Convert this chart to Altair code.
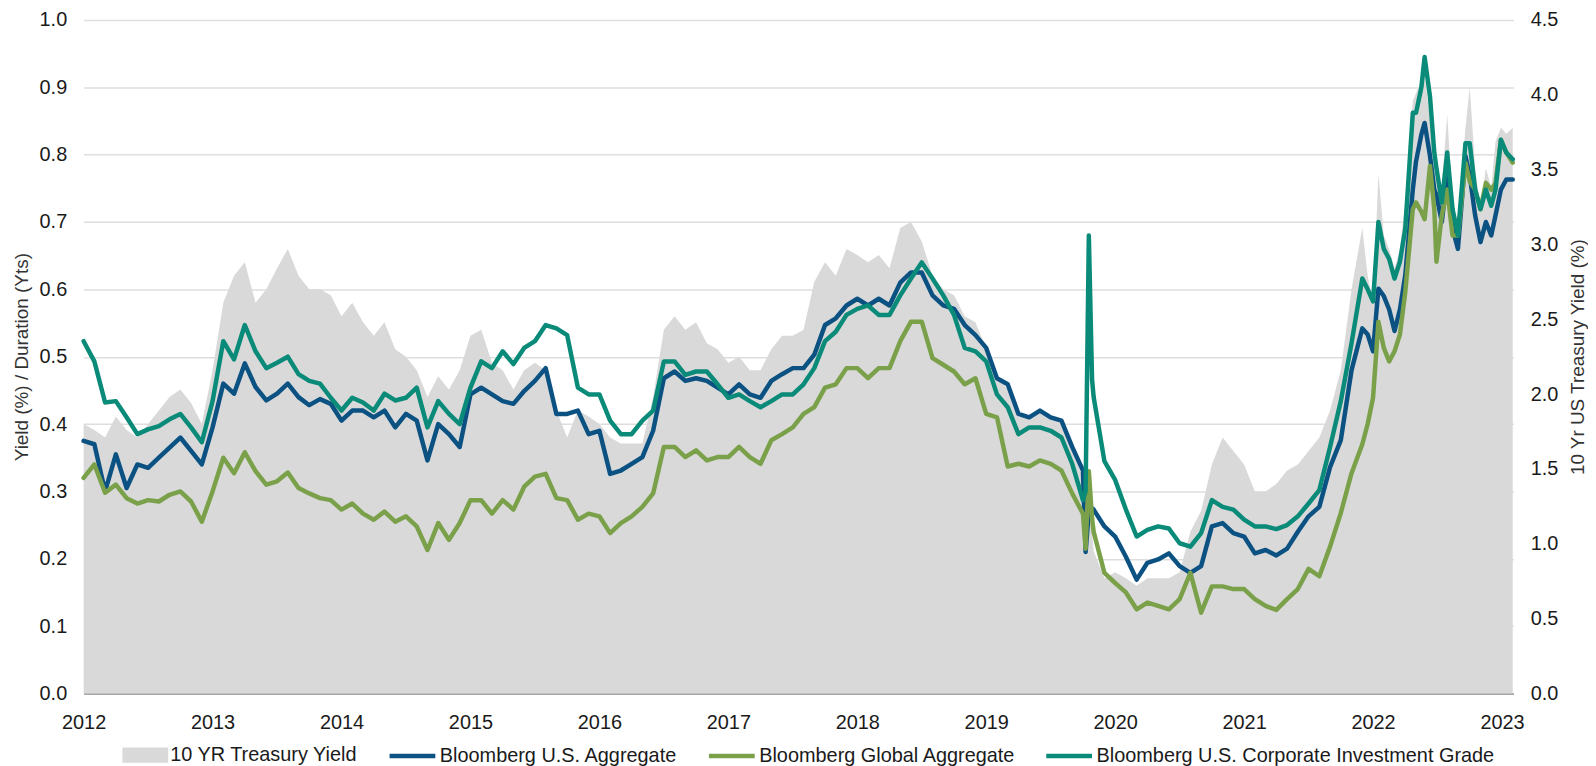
import altair as alt
import pandas as pd

# month index from Jan 2012 (0) ; extra fractional points where the lines spike
months = (list(range(0, 94)) + [93.25, 93.55, 93.85] + list(range(94, 119)) +
          [119, 119.5, 120, 120.5, 121, 121.5, 122, 122.5, 123, 123.7, 124, 124.5,
           124.8, 125.3, 125.7, 125.9, 126.4, 126.9, 127.4, 127.9, 128.6, 129,
           129.5, 130, 130.5, 131, 131.4, 131.9, 132.4, 133])

series_names = ["10 YR Treasury Yield", "Bloomberg U.S. Aggregate",
                "Bloomberg Global Aggregate", "Bloomberg U.S. Corporate Investment Grade"]
series_colors = ["#d9d9d9", "#0b5283", "#7aa14a", "#0a8a78"]

corporate = [0.523, 0.493, 0.432, 0.434, 0.410, 0.385, 0.392, 0.397, 0.407, 0.415, 0.395, 0.373,
             0.434, 0.523, 0.496, 0.547, 0.508, 0.483, 0.491, 0.500, 0.474, 0.464, 0.460,
             0.439, 0.420, 0.439, 0.432, 0.420, 0.445, 0.435, 0.439, 0.454, 0.395, 0.434,
             0.415, 0.400, 0.454, 0.493, 0.483, 0.508, 0.489, 0.513, 0.523, 0.547, 0.542,
             0.532, 0.454, 0.444, 0.444, 0.405, 0.385, 0.385, 0.405, 0.420, 0.493, 0.493,
             0.473, 0.478, 0.478, 0.459, 0.439, 0.444, 0.434, 0.425, 0.434, 0.444, 0.444,
             0.459, 0.483, 0.523, 0.537, 0.562, 0.571, 0.576, 0.562, 0.562, 0.591, 0.616,
             0.640, 0.616, 0.591, 0.562, 0.513, 0.508, 0.493, 0.444, 0.425, 0.385, 0.395,
             0.395, 0.390, 0.380, 0.341, 0.287,
             0.300, 0.680, 0.466,
             0.440, 0.345, 0.317, 0.273, 0.233, 0.243,
             0.248, 0.245, 0.223, 0.218, 0.238, 0.287, 0.277, 0.273, 0.258, 0.248, 0.248,
             0.244, 0.250, 0.263, 0.282, 0.302, 0.366, 0.434, 0.520,
             0.616, 0.600, 0.582, 0.700, 0.660, 0.645, 0.616, 0.641, 0.690, 0.862, 0.862, 0.900,
             0.945, 0.886, 0.803, 0.780, 0.729, 0.803, 0.719, 0.680, 0.817, 0.817, 0.748, 0.719,
             0.748, 0.724, 0.748, 0.822, 0.803, 0.793]

aggregate = [0.375, 0.370, 0.300, 0.355, 0.305, 0.340, 0.335, 0.350, 0.365, 0.380, 0.360, 0.340,
             0.395, 0.460, 0.445, 0.490, 0.455, 0.435, 0.445, 0.460, 0.440, 0.428, 0.437,
             0.430, 0.405, 0.420, 0.420, 0.410, 0.420, 0.395, 0.415, 0.405, 0.346, 0.400,
             0.385, 0.366, 0.444, 0.454, 0.444, 0.434, 0.430, 0.449, 0.464, 0.483, 0.415,
             0.415, 0.420, 0.385, 0.390, 0.326, 0.331, 0.341, 0.351, 0.390, 0.468, 0.478,
             0.464, 0.468, 0.464, 0.454, 0.444, 0.459, 0.444, 0.439, 0.464, 0.474, 0.483,
             0.483, 0.503, 0.547, 0.557, 0.576, 0.586, 0.576, 0.586, 0.576, 0.610, 0.625,
             0.625, 0.591, 0.576, 0.571, 0.547, 0.532, 0.513, 0.468, 0.459, 0.415, 0.410,
             0.420, 0.410, 0.405, 0.366, 0.331,
             0.210, 0.270, 0.275,
             0.273, 0.248, 0.233, 0.203, 0.169, 0.194,
             0.199, 0.208, 0.189, 0.179, 0.189, 0.248, 0.253, 0.238, 0.233, 0.208, 0.213,
             0.205, 0.215, 0.240, 0.263, 0.277, 0.336, 0.376, 0.480,
             0.542, 0.533, 0.508, 0.601, 0.590, 0.570, 0.538, 0.570, 0.621, 0.748, 0.790, 0.830,
             0.847, 0.798, 0.748, 0.740, 0.700, 0.769, 0.690, 0.660, 0.798, 0.769, 0.710, 0.670,
             0.700, 0.680, 0.710, 0.748, 0.763, 0.763]

global_agg = [0.320, 0.340, 0.298, 0.310, 0.290, 0.282, 0.287, 0.285, 0.295, 0.300, 0.285, 0.255,
              0.300, 0.350, 0.327, 0.358, 0.330, 0.310, 0.315, 0.328, 0.305, 0.297, 0.290,
              0.287, 0.273, 0.282, 0.267, 0.258, 0.270, 0.255, 0.263, 0.248, 0.213, 0.253,
              0.228, 0.253, 0.287, 0.287, 0.267, 0.287, 0.273, 0.307, 0.322, 0.326, 0.290,
              0.287, 0.258, 0.267, 0.263, 0.238, 0.253, 0.263, 0.277, 0.297, 0.366, 0.366,
              0.351, 0.361, 0.346, 0.351, 0.351, 0.366, 0.351, 0.341, 0.376, 0.385, 0.395,
              0.415, 0.425, 0.454, 0.459, 0.483, 0.483, 0.468, 0.483, 0.483, 0.523, 0.552,
              0.552, 0.498, 0.488, 0.478, 0.459, 0.468, 0.415, 0.410, 0.337, 0.341, 0.337,
              0.346, 0.341, 0.331, 0.297, 0.267,
              0.215, 0.330, 0.260,
              0.240, 0.179, 0.164, 0.150, 0.125, 0.135,
              0.130, 0.125, 0.140, 0.179, 0.120, 0.159, 0.159, 0.155, 0.155, 0.140, 0.130,
              0.124, 0.140, 0.155, 0.185, 0.174, 0.218, 0.268, 0.327,
              0.370, 0.400, 0.439, 0.552, 0.513, 0.493, 0.508, 0.533, 0.596, 0.719, 0.729, 0.715,
              0.704, 0.783, 0.719, 0.641, 0.710, 0.748, 0.680, 0.680, 0.788, 0.760, 0.748, 0.719,
              0.758, 0.748, 0.758, 0.822, 0.803, 0.788]

treasury = [1.80, 1.76, 1.71, 1.85, 1.76, 1.71, 1.80, 1.89, 1.98, 2.03, 1.94, 1.80,
            2.16, 2.61, 2.79, 2.88, 2.61, 2.70, 2.84, 2.97, 2.79, 2.70, 2.70,
            2.66, 2.52, 2.61, 2.48, 2.39, 2.48, 2.30, 2.25, 2.16, 1.98, 2.12,
            2.03, 2.16, 2.39, 2.43, 2.21, 2.16, 2.03, 2.16, 2.21, 2.16, 1.89,
            1.71, 1.89, 1.85, 1.80, 1.71, 1.67, 1.67, 1.67, 1.98, 2.43, 2.52,
            2.43, 2.48, 2.34, 2.30, 2.21, 2.25, 2.16, 2.16, 2.30, 2.39, 2.39,
            2.43, 2.75, 2.88, 2.79, 2.97, 2.93, 2.88, 2.93, 2.84, 3.11, 3.15,
            3.02, 2.79, 2.70, 2.66, 2.52, 2.48, 2.30, 2.12, 2.03, 1.85, 1.85,
            1.89, 1.85, 1.80, 1.62, 1.44,
            1.35, 1.22, 1.08,
            0.95, 0.77, 0.81, 0.77, 0.72, 0.77,
            0.77, 0.77, 0.81, 1.08, 1.22, 1.53, 1.71, 1.62, 1.53, 1.35, 1.35,
            1.40, 1.49, 1.53, 1.62, 1.71, 1.89, 2.16, 2.70,
            3.11, 2.79, 2.61, 3.47, 3.06, 2.97, 2.84, 2.97, 3.29, 3.96, 4.01, 4.10,
            4.14, 3.83, 3.60, 3.51, 3.38, 3.87, 3.29, 3.15, 3.78, 4.05, 3.51, 3.24,
            3.51, 3.38, 3.69, 3.78, 3.74, 3.78]

year_ticks = list(range(2012, 2024))
left_ticks = [0.0, 0.1, 0.2, 0.3, 0.4, 0.5, 0.6, 0.7, 0.8, 0.9, 1.0]
right_ticks = [0.0, 0.5, 1.0, 1.5, 2.0, 2.5, 3.0, 3.5, 4.0, 4.5]

years = [2012 + m / 12 for m in months]

area_df = pd.DataFrame({"t": years, "yield": treasury, "series": series_names[0]})
rows = []
for name, vals in zip(series_names[1:], [aggregate, global_agg, corporate]):
    for t, v in zip(years, vals):
        rows.append({"t": t, "value": v, "series": name})
line_df = pd.DataFrame(rows)

FONT = "Liberation Sans"
x_end = 2012 + 133.06 / 12
PLOT_H = 677

area_legend = alt.Legend(
    title=None, orient="none", direction="horizontal", legendX=39, legendY=PLOT_H + 39,
    labelFont=FONT, labelFontSize=20, labelColor="#1a1a1a", labelLimit=1000,
    symbolSize=2116, labelOffset=2, padding=0, symbolStrokeWidth=0,
    symbolType="M-1,-0.33H1V0.33H-1Z", symbolOpacity=1,
)
line_legend = alt.Legend(
    title=None, orient="none", direction="horizontal", legendX=305, legendY=PLOT_H + 37,
    labelFont=FONT, labelFontSize=20, labelColor="#1a1a1a", labelLimit=1000,
    symbolSize=2116, labelOffset=2, columnPadding=21, padding=0,
    symbolType="stroke", symbolStrokeWidth=4.5, symbolOpacity=1,
)

x_axis = alt.Axis(values=year_ticks, format="d", title=None, grid=False, ticks=False, tickSize=0,
                  labelPadding=19, labelFlush=False, labelOverlap=False, labelFont=FONT,
                  labelFontSize=20, labelColor="#1a1a1a", domainColor="#a6a6a6", domainWidth=2)
x_enc = alt.X("t:Q", scale=alt.Scale(domain=[2012, x_end], nice=False, zero=False), axis=x_axis)

area = alt.Chart(area_df).mark_area(interpolate="linear", opacity=1).encode(
    x=x_enc,
    y=alt.Y("yield:Q", scale=alt.Scale(domain=[0, 4.5], nice=False),
            axis=alt.Axis(orient="right", values=right_ticks, format=".1f",
                          title="10 Yr US Treasury Yield (%)", grid=False, ticks=False, tickSize=0,
                          domain=False, labelPadding=17, labelOverlap=False, labelFont=FONT,
                          labelFontSize=20, labelColor="#1a1a1a", titleFont=FONT,
                          titleFontSize=19, titleFontWeight="normal", titleColor="#333333",
                          titleAngle=270, titleAlign="center", titleBaseline="alphabetic",
                          titleX=70, titleY=PLOT_H / 2)),
    color=alt.Color("series:N", scale=alt.Scale(domain=series_names[:1], range=series_colors[:1]),
                    legend=area_legend),
)

y_left_axis = alt.Axis(orient="left", values=left_ticks, format=".1f",
                       title="Yield (%) / Duration (Yts)", grid=True, gridColor="#dedede",
                       gridWidth=1.5, ticks=False, tickSize=0, domain=False, labelPadding=17,
                       labelOverlap=False, labelFont=FONT, labelFontSize=20,
                       labelColor="#1a1a1a", titleFont=FONT, titleFontSize=19,
                       titleFontWeight="normal", titleColor="#333333", titleAngle=270,
                       titleAlign="center", titleBaseline="alphabetic", titleX=-56,
                       titleY=PLOT_H / 2)

line_color_scale = alt.Scale(domain=series_names[1:], range=series_colors[1:])


def line_layer(name):
    return alt.Chart(line_df).transform_filter(alt.datum.series == name).mark_line(
        strokeWidth=4.5, strokeJoin="round", strokeCap="round", interpolate="linear"
    ).encode(
        x=x_enc,
        y=alt.Y("value:Q", scale=alt.Scale(domain=[0, 1], nice=False), axis=y_left_axis),
        color=alt.Color("series:N", scale=line_color_scale, legend=line_legend),
    )


lines = alt.layer(line_layer(series_names[1]), line_layer(series_names[2]),
                  line_layer(series_names[3]))

chart = alt.layer(area, lines).resolve_scale(y="independent", color="independent").properties(
    width=1437, height=PLOT_H,
    autosize=alt.AutoSizeParams(type="none"),
    padding={"left": 76, "top": 10, "right": 75, "bottom": 80},
    background="white",
).configure_view(stroke=None)

chart.save("out.html", embed_options={"renderer": "svg", "actions": False})
